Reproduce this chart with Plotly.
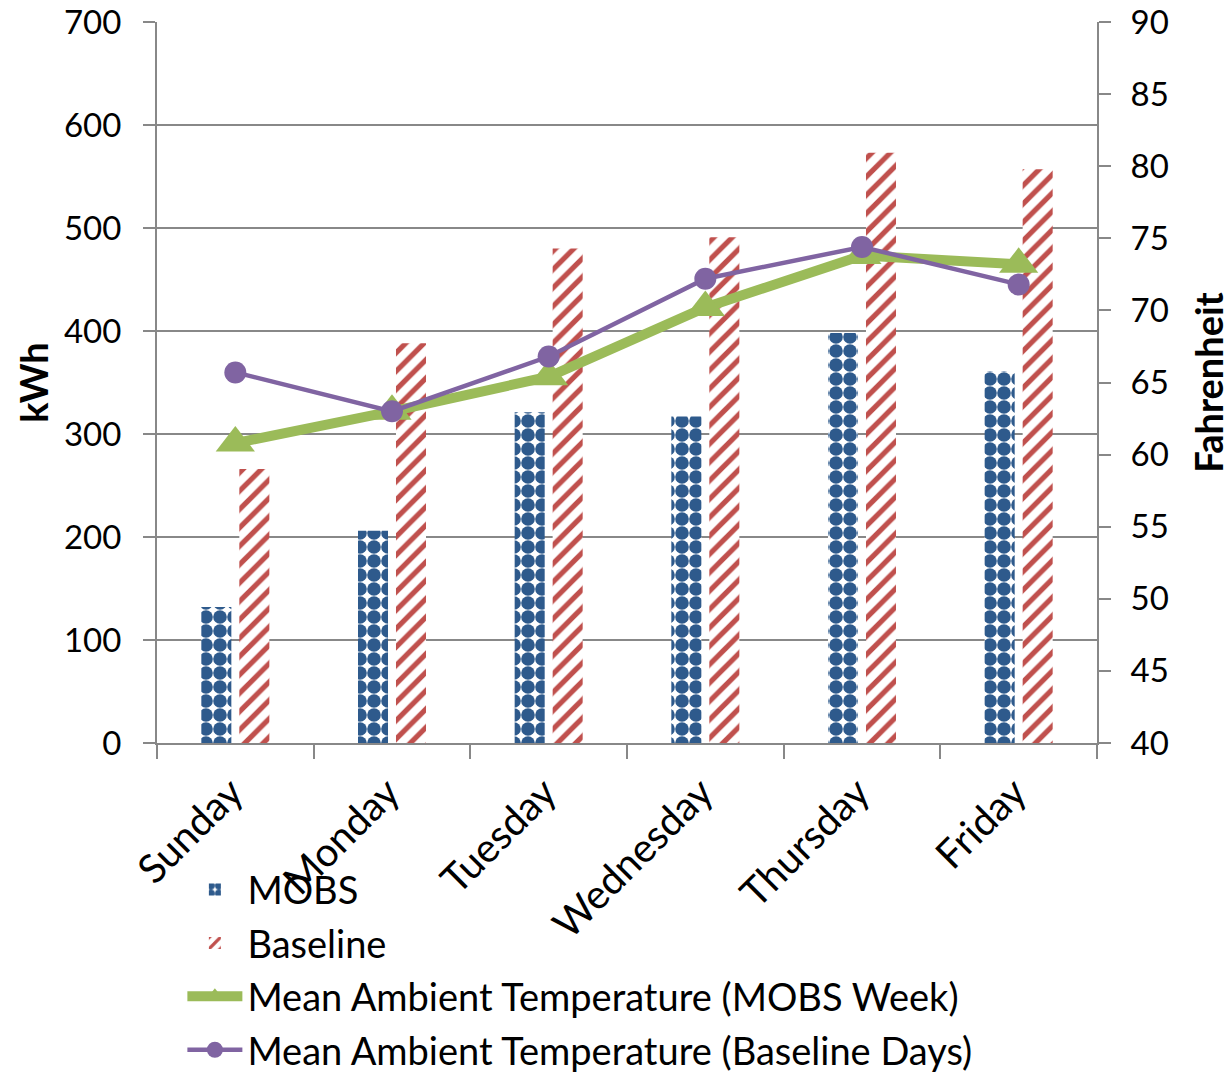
import plotly.graph_objects as go

days = ["Sunday", "Monday", "Tuesday", "Wednesday", "Thursday", "Friday"]
mobs_kwh = [132, 206, 321, 317, 398, 361]
baseline_kwh = [266, 388, 480, 491, 573, 557]
temp_mobs_week = [60.8, 63.0, 65.4, 70.2, 73.8, 73.2]
temp_baseline_days = [65.7, 63.0, 66.8, 72.2, 74.4, 71.8]

FONT = "Lato"
GRID = "#888888"

fig = go.Figure()
fig.add_trace(go.Bar(
    x=days, y=mobs_kwh, name="MOBS", legendgroup="a",
    marker=dict(color="white", line=dict(width=0),
                pattern=dict(shape=".", fgcolor="#2E5A8C", bgcolor="white",
                             size=14, solidity=0.75, fillmode="replace")),
))
fig.add_trace(go.Bar(
    x=days, y=baseline_kwh, name="Baseline", legendgroup="b",
    marker=dict(color="white", line=dict(width=0),
                pattern=dict(shape="/", fgcolor="#C0504D", bgcolor="white",
                             size=13, solidity=0.4, fillmode="replace")),
))
fig.add_trace(go.Scatter(
    x=days, y=temp_mobs_week, name="Mean Ambient Temperature (MOBS Week)",
    legendgroup="c", yaxis="y2", mode="lines+markers",
    line=dict(color="#9BBB59", width=10),
    marker=dict(symbol="triangle-up", size=34, color="#9BBB59"),
))
fig.add_trace(go.Scatter(
    x=days, y=temp_baseline_days, name="Mean Ambient Temperature (Baseline Days)",
    legendgroup="d", yaxis="y2", mode="lines+markers",
    line=dict(color="#8064A2", width=4.5),
    marker=dict(symbol="circle", size=22, color="#8064A2"),
))

fig.update_layout(
    width=1231, height=1074,
    margin=dict(l=157, r=134, t=22, b=331, autoexpand=False),
    paper_bgcolor="white", plot_bgcolor="white",
    font=dict(family=FONT, size=38, color="black"),
    barmode="group", bargap=0.515, bargroupgap=0.21,
    showlegend=True,
    legend=dict(x=0.027, y=-0.16, xanchor="left", yanchor="top",
                orientation="v", itemwidth=55, tracegroupgap=1,
                font=dict(family=FONT, size=38, color="black"),
                bgcolor="rgba(0,0,0,0)"),
    xaxis=dict(
        type="category", tickangle=-45, showline=True, linecolor=GRID,
        linewidth=2, ticks="outside", tickson="boundaries", ticklen=14,
        tickcolor=GRID, tickwidth=2, showgrid=False, automargin=False,
        ticklabelstandoff=8, ticklabelshift=-4,
        tickfont=dict(family=FONT, size=40),
    ),
    yaxis=dict(
        range=[0, 700], dtick=100, showline=True, linecolor=GRID,
        linewidth=2, ticks="outside", ticklen=12, tickcolor=GRID,
        tickwidth=2, showgrid=True, gridcolor=GRID, gridwidth=2,
        zeroline=False, automargin=False, ticklabelstandoff=15,
        ticklabeloverflow="allow",
        title=dict(text="<b>kWh</b>", font=dict(family=FONT, size=38), standoff=4),
        tickfont=dict(family=FONT, size=33),
    ),
    yaxis2=dict(
        range=[40, 90], dtick=5, overlaying="y", side="right",
        showline=True, linecolor=GRID, linewidth=2, ticks="outside",
        ticklen=12, tickcolor=GRID, tickwidth=2, showgrid=False,
        zeroline=False, automargin=False, ticklabelstandoff=13,
        ticklabeloverflow="allow",
        title=dict(text="<b>Fahrenheit</b>", font=dict(family=FONT, size=38), standoff=30),
        tickfont=dict(family=FONT, size=33),
    ),
)

fig.write_html("out.html", config={"displayModeBar": False},
               post_script="document.body.style.margin='0';")
